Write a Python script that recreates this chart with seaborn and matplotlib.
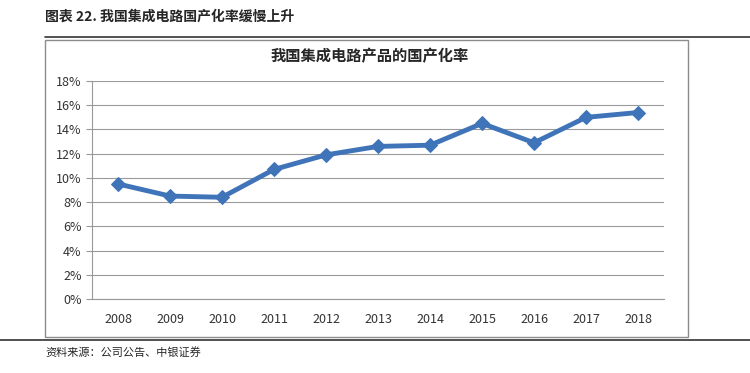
import numpy as np
import pandas as pd
import matplotlib
matplotlib.use("Agg")
import matplotlib.pyplot as plt
import seaborn as sns

years = ['2008', '2009', '2010', '2011', '2012', '2013', '2014', '2015', '2016', '2017', '2018']
rate = [9.5, 8.5, 8.4, 10.7, 11.9, 12.6, 12.7, 14.5, 12.9, 15.0, 15.4]
yticks = [0, 2, 4, 6, 8, 10, 12, 14, 16, 18]

sns.set_style("white")
plt.rcParams['font.family'] = ['Noto Sans CJK SC', 'DejaVu Sans']

df = pd.DataFrame({'pos': np.arange(len(years)), 'rate': rate})

fig = plt.figure(figsize=(7.5, 3.73), dpi=100)

# frame around chart
fig.patches.append(plt.Rectangle((0.06, 0.0965), 0.857, 0.7965, transform=fig.transFigure,
                                 fill=False, edgecolor='#8c8c8c', linewidth=1.0))
fig.add_artist(plt.Line2D([0.06, 1.0], [0.902, 0.902], color='#333333', linewidth=1.2))
fig.add_artist(plt.Line2D([0.0, 1.0], [0.088, 0.088], color='#333333', linewidth=1.2))

fig.text(0.06, 0.955, '图表 22. 我国集成电路国产化率缓慢上升', fontsize=10, fontweight='bold',
         va='center', ha='left')
fig.text(0.06, 0.055, '资料来源：公司公告、中银证券', fontsize=8, style='italic',
         va='center', ha='left')
fig.text(0.493, 0.85, '我国集成电路产品的国产化率', fontsize=11, fontweight='bold',
         va='center', ha='center')

ax = fig.add_axes([0.1227, 0.1984, 0.7627, 0.5844])
sns.lineplot(data=df, x='pos', y='rate', ax=ax, color='#3f74b9', linewidth=3.5,
             marker='D', markersize=7, markeredgecolor='#3f74b9')

ax.set_xlim(-0.5, len(years) - 0.5)
ax.set_ylim(0, 18)
ax.set_yticks(yticks)
ax.set_yticklabels([f'{v}%' for v in yticks])
ax.set_xticks(np.arange(len(years)))
ax.set_xticklabels(years)
ax.set_xticks(np.arange(len(years) + 1) - 0.5, minor=True)
ax.tick_params(axis='x', which='major', length=0, pad=10, labelsize=9, colors='#333333')
ax.tick_params(axis='x', which='minor', length=4, color='#999999', direction='out')
ax.tick_params(axis='y', length=4, color='#999999', direction='out', labelsize=9, labelcolor='#333333', left=True)
ax.set_xlabel('')
ax.set_ylabel('')
ax.grid(axis='y', color='#9a9a9a', linewidth=0.8)
ax.set_axisbelow(True)
for s in ['top', 'right']:
    ax.spines[s].set_visible(False)
ax.spines['left'].set_color('#999999')
ax.spines['bottom'].set_color('#999999')

fig.savefig('out.png', dpi=100)
